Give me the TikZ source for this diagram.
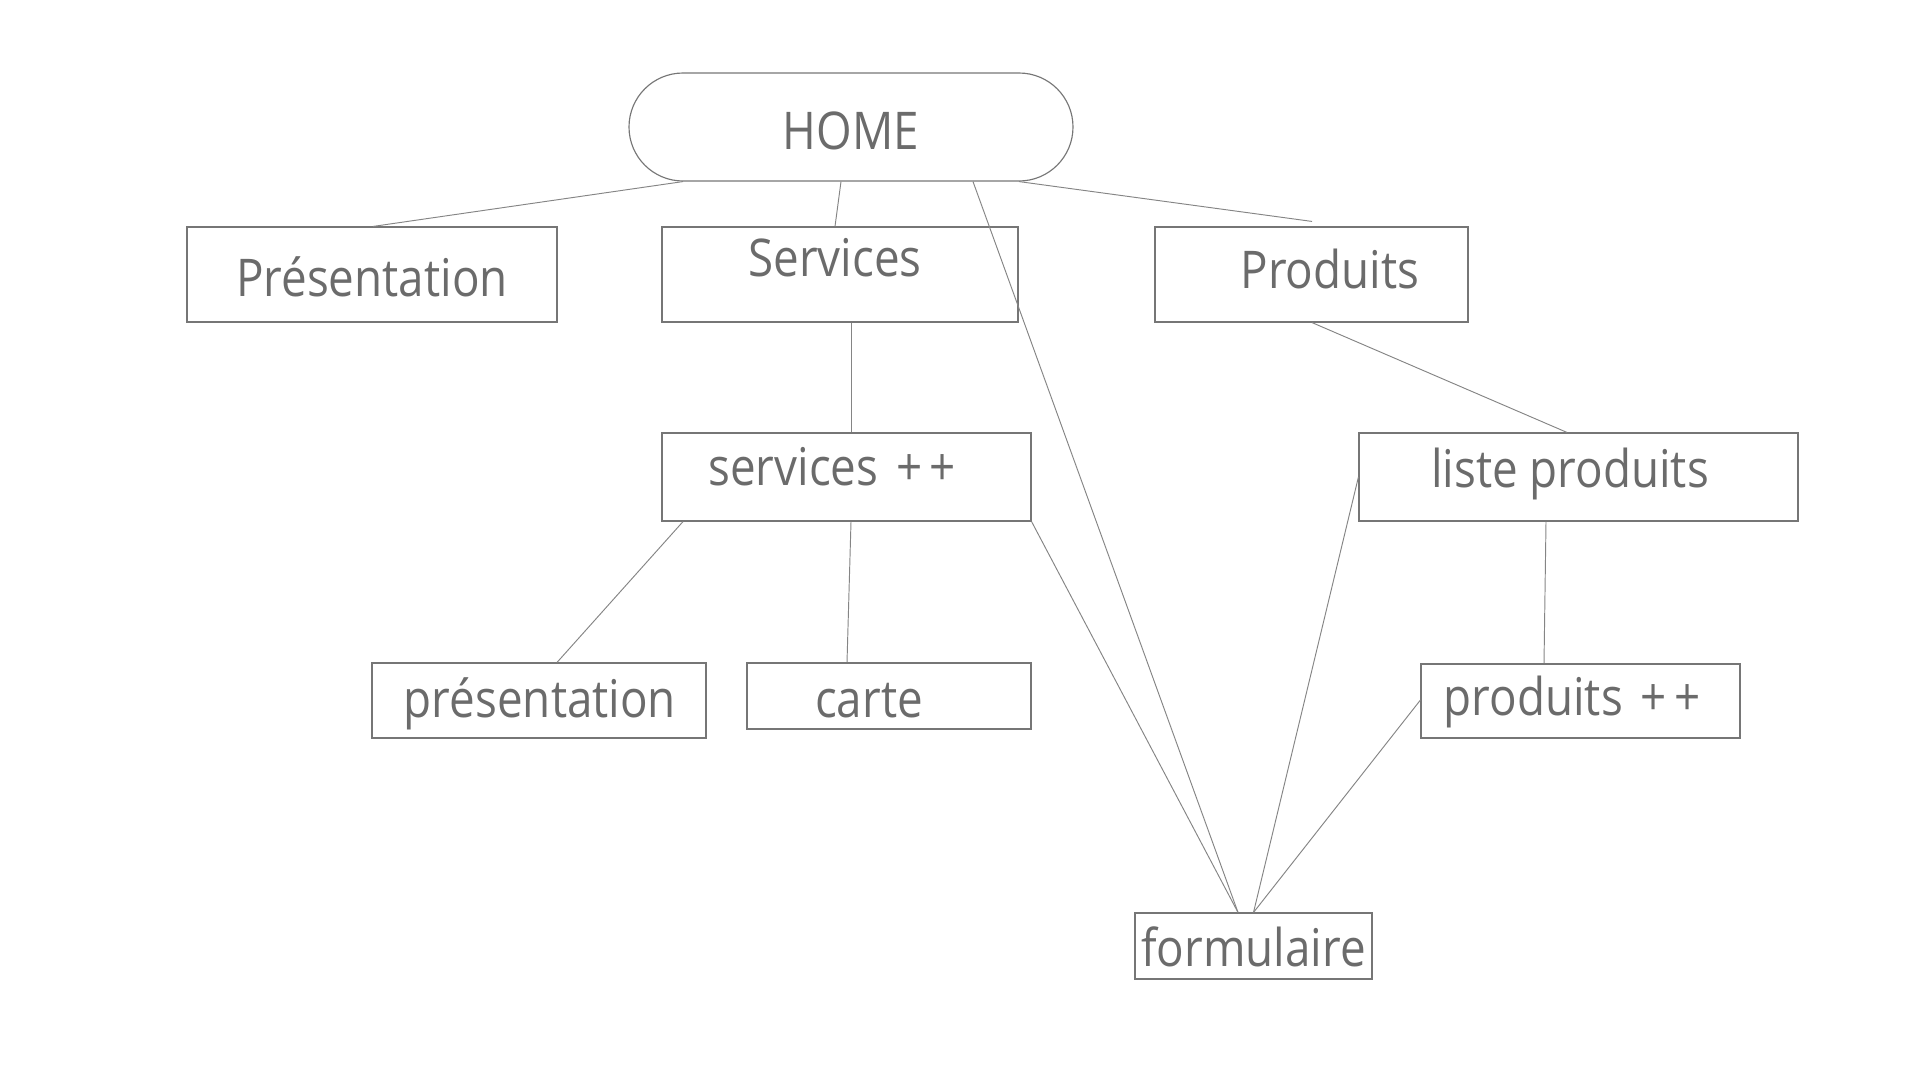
\documentclass[tikz,border=0pt]{standalone}
\usepackage{fontspec}
\setmainfont{Open Sans}[FakeStretch=0.88]
\usepackage{tikz}

\definecolor{boxgray}{HTML}{767676}
\definecolor{linegray}{HTML}{858585}
\definecolor{textgray}{HTML}{6B6B6B}

% text inside a box: #1 = twice the x offset, #2 = raise
\newcommand{\boxtext}[3]{\raisebox{#2pt}{\makebox[0pt]{\hspace*{#1pt}#3}}}
\newcommand{\pp}{\hspace{18pt}+\kern7pt+}

\tikzset{
  page/.style={x=1pt, y=-1pt},
  box/.style={draw=boxgray, line width=1.15pt, text=textgray, inner sep=0pt,
    text height=37pt, text depth=0pt, font=\fontsize{52pt}{60pt}\selectfont},
  link/.style={draw=linegray, line width=0.95pt}
}

\begin{document}
\begin{tikzpicture}[page]
            \useasboundingbox (0,0) rectangle (1920,1080);
            \node[box, rounded corners=54pt, minimum width=444pt, minimum height=108pt] (home) at (851, 127) {\boxtext{0}{-3.5}{HOME}};
            \node[box, minimum width=370pt, minimum height=95pt] (pres) at (372, 274.5) {\boxtext{0}{-3}{Présentation}};
            \node[box, minimum width=356pt, minimum height=95pt] (serv) at (840, 274.5) {\boxtext{-10}{17}{Services}};
            \node[box, minimum width=313pt, minimum height=95pt] (prod) at (1311.5, 274.5) {\boxtext{37}{5}{Produits}};
            \node[box, minimum width=369pt, minimum height=88pt] (servpp) at (846.5, 477) {\boxtext{-29}{10.5}{services\pp}};
            \node[box, minimum width=439pt, minimum height=88pt] (liste) at (1578.5, 477) {\boxtext{-17}{8.5}{liste produits}};
            \node[box, minimum width=334pt, minimum height=75pt] (spres) at (539, 700.5) {\boxtext{2}{2}{présentation}};
            \node[box, minimum width=284pt, minimum height=66pt] (carte) at (889, 696) {\boxtext{-40}{-2.5}{carte}};
            \node[box, minimum width=319pt, minimum height=74pt] (prodpp) at (1580.5, 701) {\boxtext{-17}{4}{produits\pp}};
            \node[box, minimum width=237pt, minimum height=66pt] (form) at (1253.5, 946) {\boxtext{0}{-1.5}{formulaire}};
            % links
            \draw[link] ([xshift=-168pt]home.south) to ([xshift=1pt]pres.north);
            \draw[link] ([xshift=-10pt]home.south) to ([xshift=-5pt]serv.north);
            \draw[link] ([xshift=168pt]home.south) to ([xshift=0.5pt, yshift=5pt]prod.north);
            \draw[link] ([xshift=122pt]home.south) to ([xshift=-15.5pt]form.north);
            \draw[link] ([xshift=11pt]serv.south) to ([xshift=4.5pt]servpp.north);
            \draw[link] ([xshift=0.5pt]prod.south) to ([xshift=-11.5pt]liste.north);
            \draw[link] ([xshift=-163.5pt]servpp.south) to ([xshift=18pt]spres.north);
            \draw[link] ([xshift=4.5pt]servpp.south) to ([xshift=-42pt]carte.north);
            \draw[link] (servpp.south east) to ([xshift=-15.5pt]form.north);
            \draw[link] (liste.west) to (form.north);
            \draw[link] ([xshift=-32.5pt]liste.south) to ([xshift=-36.5pt]prodpp.north);
            \draw[link] ([yshift=1pt]prodpp.west) to (form.north);
        \end{tikzpicture}
\end{document}
